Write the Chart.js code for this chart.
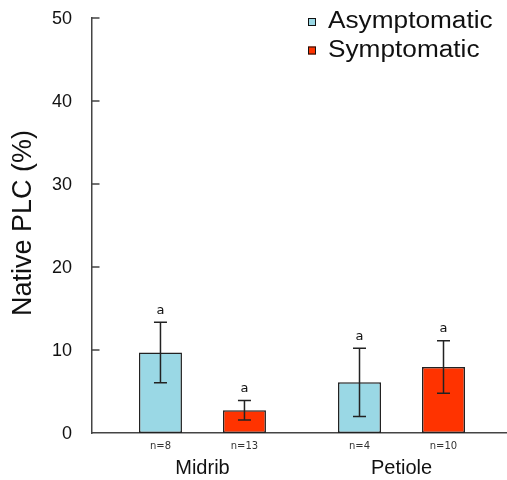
<!DOCTYPE html>
<html>
<head>
<meta charset="utf-8">
<script src="https://cdn.jsdelivr.net/npm/chart.js@4/dist/chart.umd.min.js"></script>
<style>
  html, body { margin: 0; padding: 0; background: #fff; }
  canvas { display: block; }
</style>
</head>
<body>
<canvas id="plcChart" width="507" height="480"></canvas>
<script>
// Data
const groups = ['Midrib', 'Petiole'];
const seriesNames = ['Asymptomatic', 'Symptomatic'];
const asymMean = [9.7, 6.1];
const asymErr = [3.65, 4.1];
const sympMean = [2.75, 7.95];
const sympErr = [1.17, 3.15];
const asymN = ['n=8', 'n=4'];
const sympN = ['n=13', 'n=10'];
const asymLetters = ['a', 'a'];
const sympLetters = ['a', 'a'];
const yTicks = [0, 10, 20, 30, 40, 50];

const colors = {
    asym: '#9ad8e5',
    symp: '#ff3300',
    edge: '#222222',
    axis: '#444444',
    text: '#111111'
};

const sans = '"Liberation Sans", Arial, sans-serif';
const small = '"DejaVu Sans", Verdana, sans-serif';

const extras = [
    { mean: asymMean, err: asymErr, n: asymN, letters: asymLetters },
    { mean: sympMean, err: sympErr, n: sympN, letters: sympLetters }
];

// error bars, letters, n labels, inward ticks, legend and y title
const decorations = {
    id: 'decorations',
    afterDatasetsDraw(chart) {
        const ctx = chart.ctx;
        const y = chart.scales.y;
        ctx.save();
        extras.forEach((s, di) => {
            chart.getDatasetMeta(di).data.forEach((bar, i) => {
                const top = y.getPixelForValue(s.mean[i] + s.err[i]);
                const bot = y.getPixelForValue(s.mean[i] - s.err[i]);
                ctx.strokeStyle = colors.edge;
                ctx.lineWidth = 1.5;
                ctx.beginPath();
                ctx.moveTo(bar.x, top); ctx.lineTo(bar.x, bot);
                ctx.moveTo(bar.x - 6.5, top); ctx.lineTo(bar.x + 6.5, top);
                ctx.moveTo(bar.x - 6.5, bot); ctx.lineTo(bar.x + 6.5, bot);
                ctx.stroke();

                ctx.fillStyle = colors.text;
                ctx.textAlign = 'center';
                ctx.textBaseline = 'alphabetic';
                ctx.font = '13px ' + small;
                ctx.fillText(s.letters[i], bar.x, top - 8.5);

                ctx.fillStyle = '#333';
                ctx.font = '10px ' + small;
                ctx.textBaseline = 'middle';
                ctx.fillText(s.n[i], bar.x, y.bottom + 13);
            });
        });
        ctx.restore();
    },
    afterDraw(chart) {
        const ctx = chart.ctx;
        const y = chart.scales.y;
        const left = chart.chartArea.left;
        ctx.save();
        ctx.strokeStyle = colors.axis;
        ctx.lineWidth = 1.5;
        ctx.beginPath();
        yTicks.slice(1).forEach(v => {
            const py = y.getPixelForValue(v);
            ctx.moveTo(left, py); ctx.lineTo(left + 7.5, py);
        });
        ctx.stroke();

        // legend
        const sw = [colors.asym, colors.symp];
        const rows = [22, 50.5];
        ctx.font = '23px ' + sans;
        ctx.textAlign = 'left';
        ctx.textBaseline = 'middle';
        seriesNames.forEach((name, i) => {
            ctx.fillStyle = sw[i];
            ctx.fillRect(308, rows[i] - 4, 8, 8);
            ctx.strokeStyle = '#111';
            ctx.lineWidth = 1;
            ctx.strokeRect(308.5, rows[i] - 3.5, 7, 7);
            ctx.save();
            ctx.translate(328, rows[i]);
            ctx.scale(1.14, 1);
            ctx.fillStyle = colors.text;
            ctx.fillText(name, 0, 0);
            ctx.restore();
        });

        // y axis title
        ctx.save();
        ctx.translate(31, 223);
        ctx.rotate(-Math.PI / 2);
        ctx.font = '27px ' + sans;
        ctx.fillStyle = colors.text;
        ctx.textAlign = 'center';
        ctx.textBaseline = 'alphabetic';
        ctx.fillText('Native PLC (%)', 0, 0);
        ctx.restore();
        ctx.restore();
    }
};

const ctx = document.getElementById('plcChart').getContext('2d');
new Chart(ctx, {
    type: 'bar',
    data: {
        datasets: [{
            label: seriesNames[0],
            data: asymMean.map((v, i) => ({ x: i + 1, y: v })),
            backgroundColor: colors.asym,
            borderColor: colors.edge,
            borderWidth: 1.5,
            borderSkipped: false
        }, {
            label: seriesNames[1],
            data: sympMean.map((v, i) => ({ x: i + 1, y: v })),
            backgroundColor: colors.symp,
            borderColor: colors.edge,
            borderWidth: 1.5,
            borderSkipped: false
        }]
    },
    options: {
        responsive: false,
        animation: false,
        devicePixelRatio: 1,
        categoryPercentage: 0.844,
        barPercentage: 0.512,
        layout: { padding: { top: 18, right: 1, left: 0, bottom: 0 } },
        plugins: {
            legend: { display: false },
            tooltip: { enabled: false }
        },
        scales: {
            x: {
                type: 'linear',
                offset: false,
                min: 0.445,
                max: 2.525,
                afterBuildTicks: scale => {
                    scale.ticks = groups.map((g, i) => ({ value: i + 1 }));
                },
                afterFit: scale => {
                    scale.height = 47;
                    scale.paddingLeft = 0;
                    scale.paddingRight = 0;
                },
                grid: { display: false, drawTicks: false },
                border: { color: colors.axis, width: 1.5 },
                ticks: {
                    autoSkip: false,
                    maxRotation: 0,
                    padding: 23,
                    color: colors.text,
                    font: { family: sans, size: 20 },
                    callback: (value, index) => groups[index]
                }
            },
            y: {
                min: 0,
                max: 50,
                afterFit: scale => {
                    scale.width = 92;
                    scale.paddingTop = 0;
                    scale.paddingBottom = 0;
                },
                afterBuildTicks: scale => {
                    scale.ticks = yTicks.map(v => ({ value: v }));
                },
                grid: { display: false, drawTicks: false },
                border: { color: colors.axis, width: 1.5 },
                ticks: {
                    padding: 20,
                    labelOffset: 1,
                    color: colors.text,
                    font: { family: sans, size: 18 }
                }
            }
        }
    },
    plugins: [decorations]
});
</script>
</body>
</html>
